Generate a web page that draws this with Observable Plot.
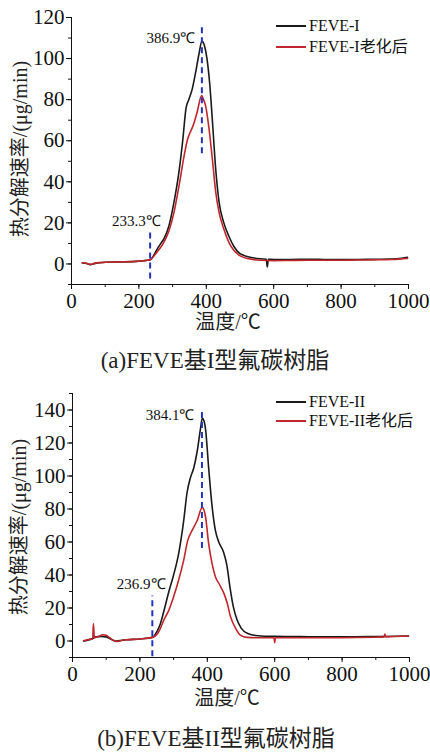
<!DOCTYPE html>
<html><head><meta charset="utf-8">
<script src="https://cdn.jsdelivr.net/npm/d3@7"></script>
<script src="https://cdn.jsdelivr.net/npm/@observablehq/plot@0.6"></script>
<style>
body{margin:0;background:#fff;}
#root{position:relative;width:430px;height:752px;overflow:hidden;font-family:"Liberation Serif","Times New Roman","Noto Sans CJK SC",serif;color:#111;}
.abs{position:absolute;white-space:nowrap;line-height:1;}
.ylab{transform:translate(-50%,-50%) rotate(-90deg);font-size:20px;color:#222;}
.xlab{transform:translate(-50%,-50%);font-size:20px;color:#222;}
.cap{transform:translate(-50%,-50%);font-size:23px;color:#222;}
.leg{font-size:16px;transform:translateY(-50%);display:flex;align-items:center;}
.sw{display:inline-block;width:30px;height:2px;margin-right:3px;}
</style></head>
<body><div id="root"></div>
<script>
// ---------- data ----------
const xTicks = [0, 200, 400, 600, 800, 1000];
const xMinor = [0, 100, 200, 300, 400, 500, 600, 700, 800, 900, 1000];
const yTicksA = [0, 20, 40, 60, 80, 100, 120];
const yMinorA = [-10, 0, 10, 20, 30, 40, 50, 60, 70, 80, 90, 100, 110, 120];
const yTicksB = [0, 20, 40, 60, 80, 100, 120, 140];
const yMinorB = [-10, 0, 10, 20, 30, 40, 50, 60, 70, 80, 90, 100, 110, 120, 130, 140, 150];

const seriesNamesA = ["FEVE-I", "FEVE-I老化后"];
const seriesNamesB = ["FEVE-II", "FEVE-II老化后"];
const captionA = "(a)FEVE基I型氟碳树脂";
const captionB = "(b)FEVE基II型氟碳树脂";
const xLabel = "温度/℃";
const yLabel = "热分解速率/(μg/min)";

// panel (a) FEVE-I
const tempA1 = [32, 45, 55, 70, 100, 150, 200, 225, 235, 245, 255, 265, 275, 289, 304, 319, 330, 340, 348, 358, 368, 378, 387, 395, 402, 410, 418, 428, 438, 452, 467, 482, 500, 530, 560, 578, 581, 584, 600, 650, 700, 750, 800, 850, 900, 950, 980, 997];
const rateA1 = [0.5, 0.2, -0.3, 0.3, 0.8, 1.0, 1.4, 1.8, 2.2, 4.5, 7.5, 10, 12.5, 18.5, 30, 45, 60, 76, 80, 85, 93, 102, 108.5, 106, 100, 88, 70, 46, 30, 20, 13.5, 8.5, 5, 3.3, 2.5, 2.3, -1.5, 2.3, 2.2, 2.2, 2.3, 2.2, 2.1, 2.2, 2.3, 2.4, 2.8, 3.2];
// panel (a) FEVE-I aged
const tempA2 = [32, 45, 55, 70, 100, 150, 200, 225, 235, 250, 262, 274, 289, 304, 319, 334, 344, 352, 360, 373, 386, 392, 398, 408, 418, 428, 438, 452, 467, 482, 502, 527, 560, 600, 650, 700, 750, 800, 850, 900, 950, 980, 997];
const rateA2 = [0.6, 0.3, -0.2, 0.4, 0.8, 1.0, 1.4, 1.8, 2.2, 5, 7.5, 10.5, 16, 25, 38, 52.5, 60.5, 64, 67, 74, 82, 80, 77, 66, 51, 35, 25, 17, 10.5, 6.5, 3.8, 2.5, 1.8, 1.6, 1.7, 1.8, 1.8, 1.8, 1.9, 2.0, 2.2, 2.5, 2.7];

// panel (b) FEVE-II
const tempB1 = [33, 45, 60, 70, 85, 100, 115, 128, 140, 160, 200, 237, 250, 260, 271, 286, 300, 315, 330, 340, 350, 360, 370, 380, 385, 388, 395, 404, 414, 424, 434, 448, 458, 467, 477, 488, 500, 520, 550, 600, 700, 800, 900, 997];
const rateB1 = [0, 0.5, 1.5, 2.5, 2.8, 2.5, 1.0, 0, 0.3, 0.8, 1.2, 2.2, 5.5, 10, 18, 30, 40, 53, 73, 90, 99, 105, 115, 129, 135, 134.5, 128, 105, 82, 67, 60, 54, 46, 33, 21, 13, 8, 4.5, 3.2, 2.8, 2.6, 2.5, 2.7, 3.0];
// panel (b) FEVE-II aged
const tempB2 = [33, 50, 60, 62, 65, 75, 90, 100, 110, 120, 130, 145, 160, 200, 237, 256, 271, 286, 300, 315, 330, 342, 355, 370, 385, 390, 395, 404, 414, 424, 434, 449, 459, 469, 484, 498, 518, 550, 598, 600, 602, 700, 800, 900, 925, 927, 929, 997];
const rateB2 = [0.2, 1, 1.2, 10.5, 2, 2.5, 3.8, 3.5, 2.0, 0.5, -0.3, 0.3, 0.8, 1.2, 2.2, 5.6, 12.7, 18.7, 26.8, 37, 49, 61, 67, 73, 81, 79.5, 75, 59, 47, 39, 35, 29, 23, 14.7, 7.7, 3.6, 2.2, 2.0, 2.0, -1, 2.0, 2.0, 2.0, 2.3, 2.5, 4.2, 2.5, 3.0];

// markers: onset and peak temperatures, with dashed-line extents (y values)
const onsetA = 233.3, peakA = 386.9;
const onsetB = 236.9, peakB = 384.1;
const onsetSpanA = [-7.3, 15.4], peakSpanA = [53.7, 115.4];
const onsetSpanB = [-9.5, 27.2], peakSpanB = [56, 139];
const annA = [{x: 265, y: 21, v: onsetA}, {x: 367, y: 110, v: peakA}];
const annB = [{x: 276, y: 34.4, v: onsetB}, {x: 362, y: 136.6, v: peakB}];

const BLACK = "#1a1a1a", RED = "#c0272d", BLUE = "#2234b8";
const SERIF = '"Liberation Serif","Times New Roman",serif';

function pts(t, v) { return t.map((d, i) => ({t: d, v: v[i]})); }

function makePlot(opt) {
  return Plot.plot({
    width: 430, height: opt.height,
    marginLeft: opt.ml, marginRight: opt.mr, marginTop: opt.mt, marginBottom: opt.mb,
    style: {fontFamily: SERIF, fontSize: "21px", color: "#111", background: "transparent", overflow: "visible"},
    x: {domain: [0, 1000]},
    y: {domain: opt.ydomain},
    marks: [
      Plot.axisY({ticks: opt.yMinor, tickSize: 3, tickFormat: () => "", label: null}),
      Plot.axisY({ticks: opt.yTicks, tickSize: 5, tickPadding: 2, tickFormat: d => String(d), fontSize: 21, fontFamily: SERIF, label: null}),
      Plot.axisX({ticks: xMinor, tickSize: 3, tickFormat: () => "", label: null}),
      Plot.axisX({ticks: xTicks, tickSize: 5, tickPadding: 4, tickFormat: d => String(d), fontSize: 21, fontFamily: SERIF, label: null}),
      Plot.ruleX([0], {stroke: "#111", strokeWidth: 1}),
      Plot.ruleY([opt.ydomain[0]], {stroke: "#111", strokeWidth: 1}),
      Plot.line(pts(opt.t1, opt.v1), {x: "t", y: "v", stroke: BLACK, strokeWidth: 1.6, curve: "monotone-x"}),
      Plot.line(pts(opt.t2, opt.v2), {x: "t", y: "v", stroke: RED, strokeWidth: 1.6, curve: "monotone-x"}),
      Plot.ruleX([opt.onset], {y1: opt.onsetSpan[0], y2: opt.onsetSpan[1], stroke: BLUE, strokeWidth: 2, strokeDasharray: "6,4"}),
      Plot.ruleX([opt.peak], {y1: opt.peakSpan[0], y2: opt.peakSpan[1], stroke: BLUE, strokeWidth: 2, strokeDasharray: "6,4"}),
      Plot.text(opt.ann, {x: "x", y: "y", text: d => d.v.toFixed(1) + "℃", textAnchor: "end", fontSize: 15, fontFamily: SERIF, fill: "#111"})
    ]
  });
}

const root = document.getElementById("root");
function place(node, left, top) {
  const d = document.createElement("div");
  d.className = "abs"; d.style.left = left + "px"; d.style.top = top + "px";
  d.appendChild(node); root.appendChild(d); return d;
}
function label(text, cls, left, top) {
  const d = document.createElement("div");
  d.className = "abs " + cls; d.textContent = text;
  d.style.left = left + "px"; d.style.top = top + "px";
  root.appendChild(d);
}
function legend(names, left, tops) {
  [BLACK, RED].forEach((c, i) => {
    const d = document.createElement("div");
    d.className = "abs leg"; d.style.left = left + "px"; d.style.top = tops[i] + "px";
    const sw = document.createElement("span"); sw.className = "sw"; sw.style.background = c;
    const tx = document.createElement("span"); tx.textContent = names[i];
    d.appendChild(sw); d.appendChild(tx); root.appendChild(d);
  });
}

// panel (a)
place(makePlot({height: 340, ml: 71, mr: 22, mt: 17, mb: 56, ydomain: [-10, 120], yTicks: yTicksA, yMinor: yMinorA,
  t1: tempA1, v1: rateA1, t2: tempA2, v2: rateA2, onset: onsetA, peak: peakA, onsetSpan: onsetSpanA, peakSpan: peakSpanA, ann: annA}), 0, 0);
label(yLabel, "ylab", 20, 149);
label(xLabel, "xlab", 228, 322);
label(captionA, "cap", 215, 360);
legend(seriesNamesA, 276, [26, 47]);

// panel (b)
place(makePlot({height: 335, ml: 72, mr: 21, mt: 13, mb: 58, ydomain: [-10, 150], yTicks: yTicksB, yMinor: yMinorB,
  t1: tempB1, v1: rateB1, t2: tempB2, v2: rateB2, onset: onsetB, peak: peakB, onsetSpan: onsetSpanB, peakSpan: peakSpanB, ann: annB}), 0, 380);
label(yLabel, "ylab", 19, 527);
label(xLabel, "xlab", 227, 698);
label(captionB, "cap", 216, 738);
legend(seriesNamesB, 276, [401.7, 420.7]);
</script>
</body></html>
